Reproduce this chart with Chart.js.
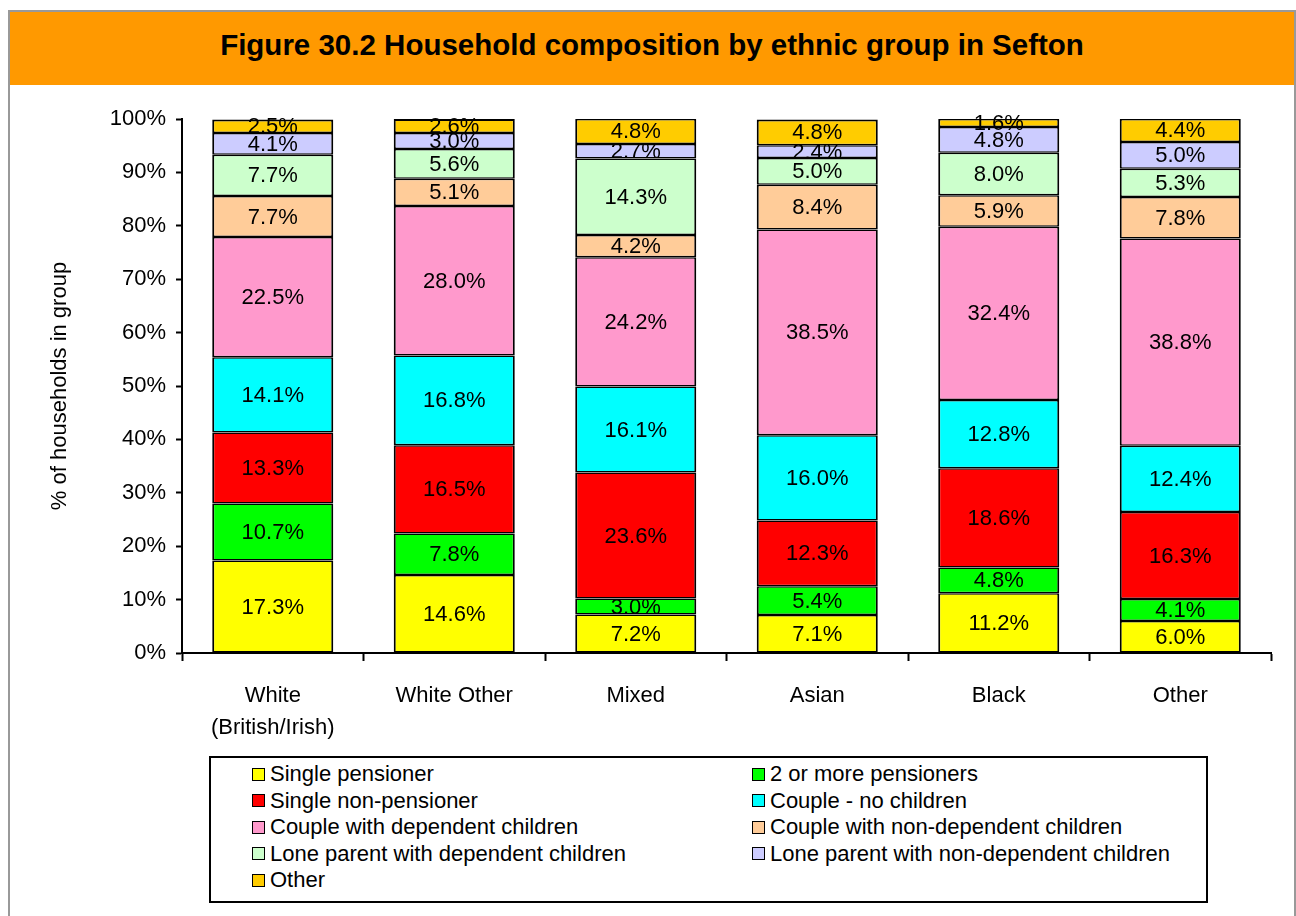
<!DOCTYPE html>
<html lang="en">
<head>
<meta charset="UTF-8">
<title>Household composition by ethnic group in Sefton</title>
<script src="https://cdn.jsdelivr.net/npm/chart.js"></script>
<style>
  body { margin: 0; background: #fff; font-family: "Liberation Sans", Arial, sans-serif; }
  .frame { position: absolute; left: 8px; top: 10px; width: 1288px; height: 920px; box-sizing: border-box;
           border: 2px solid #999; border-bottom: none; }
  .header { position: absolute; left: 10px; top: 12px; width: 1284px; height: 73px; background: #ff9900;
            text-align: center; line-height: 66px; font-weight: bold; font-size: 29.5px; color: #000; }
  .chartBox { position: absolute; left: 0; top: 0; width: 1296px; height: 916px; }
  .legend { position: absolute; left: 209px; top: 756px; width: 999px; height: 147px; box-sizing: border-box;
            border: 2px solid #000; background: #fff; padding: 3px 0 0 41px;
            display: grid; grid-template-columns: 500px 440px; grid-auto-rows: 26.5px; font-size: 22px; }
  .legend div { display: flex; align-items: center; white-space: nowrap; }
  .legend span.box { width: 11px; height: 11px; border: 1.5px solid #000; margin-right: 5px; flex: none; }
</style>
</head>
<body>
<div class="frame"></div>
<div class="header">Figure 30.2 Household composition by ethnic group in Sefton</div>
<div class="chartBox"><canvas id="chart"></canvas></div>
<div class="legend" id="legend"></div>

<script>
// categories along the x axis
const groups = [['White', '(British/Irish)'], 'White Other', 'Mixed', 'Asian', 'Black', 'Other'];

// % of households in each group, one array per household type
const singlePensioner     = [17.3, 14.6,  7.2,  7.1, 11.2,  6.0];
const twoPlusPensioners   = [10.7,  7.8,  3.0,  5.4,  4.8,  4.1];
const singleNonPensioner  = [13.3, 16.5, 23.6, 12.3, 18.6, 16.3];
const coupleNoChildren    = [14.1, 16.8, 16.1, 16.0, 12.8, 12.4];
const coupleDepChildren   = [22.5, 28.0, 24.2, 38.5, 32.4, 38.8];
const coupleNonDepChildren = [7.7,  5.1,  4.2,  8.4,  5.9,  7.8];
const loneDepChildren     = [ 7.7,  5.6, 14.3,  5.0,  8.0,  5.3];
const loneNonDepChildren  = [ 4.1,  3.0,  2.7,  2.4,  4.8,  5.0];
const otherHouseholds     = [ 2.5,  2.6,  4.8,  4.8,  1.6,  4.4];

const seriesNames = [
  'Single pensioner', '2 or more pensioners', 'Single non-pensioner', 'Couple - no children',
  'Couple with dependent children', 'Couple with non-dependent children',
  'Lone parent with dependent children', 'Lone parent with non-dependent children', 'Other'
];
const seriesValues = [
  singlePensioner, twoPlusPensioners, singleNonPensioner, coupleNoChildren, coupleDepChildren,
  coupleNonDepChildren, loneDepChildren, loneNonDepChildren, otherHouseholds
];
const seriesColors = ['#ffff00', '#00ff00', '#ff0000', '#00ffff', '#ff99cc', '#ffcc99', '#ccffcc', '#ccccff', '#ffcc00'];

const yTicks = [0, 10, 20, 30, 40, 50, 60, 70, 80, 90, 100];

const FONT = '"Liberation Sans", Arial, sans-serif';
Chart.defaults.font.family = FONT;
Chart.defaults.color = '#000';

const datasets = seriesNames.map((name, i) => ({
  label: name,
  data: seriesValues[i],
  backgroundColor: seriesColors[i],
  borderColor: '#000',
  borderWidth: { top: i === seriesNames.length - 1 ? 2 : 1.5, bottom: 1.5, left: 2, right: 2 },
  borderSkipped: false,
  barPercentage: 0.667,
  categoryPercentage: 1
}));

// value label in the middle of every segment
const segmentLabels = {
  id: 'segmentLabels',
  afterDatasetsDraw(chart) {
    const ctx = chart.ctx;
    ctx.save();
    ctx.font = '22px ' + FONT;
    ctx.fillStyle = '#000';
    ctx.textAlign = 'center';
    ctx.textBaseline = 'middle';
    chart.data.datasets.forEach((ds, i) => {
      chart.getDatasetMeta(i).data.forEach((bar, j) => {
        const p = bar.getProps(['x', 'y', 'base'], true);
        ctx.fillText(ds.data[j].toFixed(1) + '%', p.x, (p.y + p.base) / 2 + 1);
      });
    });
    ctx.restore();
  }
};

new Chart(document.getElementById('chart'), {
  type: 'bar',
  data: { labels: groups, datasets },
  options: {
    responsive: true,
    maintainAspectRatio: false,
    animation: false,
    layout: { padding: { left: 47, top: 119, right: 25, bottom: 163 } },
    plugins: { legend: { display: false }, tooltip: { enabled: false } },
    scales: {
      x: {
        stacked: true,
        grid: { drawOnChartArea: false, tickLength: 8, tickWidth: 2, color: '#000', offset: true },
        border: { color: '#000', width: 2 },
        ticks: { font: { size: 22, lineHeight: 1.45 }, padding: 19, maxRotation: 0, autoSkip: false },
        afterFit: s => { s.height = 100; }
      },
      y: {
        stacked: true,
        min: 0,
        max: 100,
        afterBuildTicks: s => { s.ticks = yTicks.map(v => ({ value: v })); },
        ticks: { font: { size: 22 }, padding: 10, callback: v => v + '%' },
        grid: { drawOnChartArea: false, tickLength: 6, tickWidth: 2, color: '#000' },
        border: { color: '#000', width: 2 },
        title: { display: true, text: '% of households in group', font: { size: 22 }, padding: 0 },
        afterFit: s => { s.width = 135; }
      }
    }
  },
  plugins: [segmentLabels]
});

// legend, two columns in series order
const legend = document.getElementById('legend');
seriesNames.forEach((name, i) => {
  const item = document.createElement('div');
  item.innerHTML = '<span class="box" style="background:' + seriesColors[i] + '"></span>' + name;
  legend.appendChild(item);
});
</script>
</body>
</html>
